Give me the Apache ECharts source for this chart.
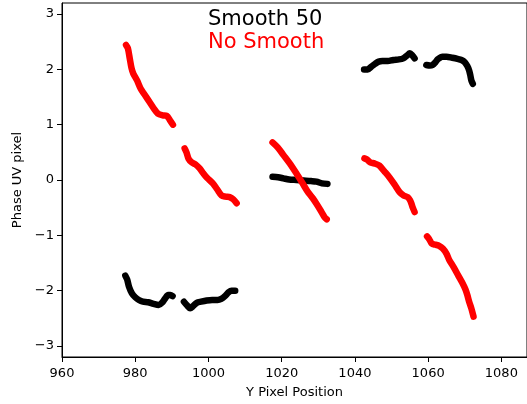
<!DOCTYPE html>
<html><head><meta charset="utf-8">
<script src="https://cdn.jsdelivr.net/npm/echarts@6/dist/echarts.min.js"></script>
<style>html,body{margin:0;padding:0;background:#fff}#c{width:527px;height:404px}</style>
</head><body><div id="c"></div>
<script>
const xTicks = [960, 980, 1000, 1020, 1040, 1060, 1080];
const yTicks = [-3, -2, -1, 0, 1, 2, 3];
const xLabel = 'Y Pixel Position';
const yLabel = 'Phase UV pixel';
const smoothName = 'Smooth 50';
const rawName = 'No Smooth';

// "No Smooth" (red) segments
const raw1 = [[977.5,2.44],[978,2.38],[978.5,2.2],[979,2.02],[979.5,1.92],[980.5,1.8],[981.5,1.65],[982.5,1.55],[984,1.4],[985,1.3],[986.2,1.2],[987.5,1.17],[988.6,1.16],[989.5,1.08],[990.3,1.0]];
const raw2 = [[993.5,0.57],[994,0.5],[994.6,0.38],[995.4,0.32],[996.5,0.28],[997.6,0.21],[998.6,0.12],[999.6,0.04],[1001.2,-0.06],[1002.4,-0.17],[1003.6,-0.28],[1004.7,-0.3],[1005.8,-0.31],[1006.8,-0.35],[1007.7,-0.42]];
const raw3 = [[1017.5,0.68],[1018.9,0.59],[1020.5,0.45],[1022.2,0.3],[1024,0.12],[1025.7,-0.06],[1027,-0.2],[1028.5,-0.33],[1029.8,-0.46],[1030.9,-0.58],[1031.7,-0.67],[1032.3,-0.71]];
const raw4 = [[1042.6,0.39],[1043.3,0.37],[1044.2,0.32],[1045.3,0.3],[1046.7,0.26],[1048,0.16],[1049.4,0.05],[1050.8,-0.08],[1052.2,-0.22],[1053.3,-0.28],[1054.4,-0.31],[1055,-0.36],[1055.4,-0.42],[1055.8,-0.5],[1056.3,-0.58]];
const raw5 = [[1059.7,-1.02],[1060.3,-1.07],[1061,-1.15],[1062,-1.17],[1063,-1.19],[1064,-1.24],[1065,-1.33],[1065.8,-1.45],[1067,-1.58],[1068.5,-1.76],[1069.5,-1.88],[1070.2,-1.98],[1070.7,-2.08],[1071.2,-2.2],[1071.8,-2.32],[1072.4,-2.47]];

// "Smooth 50" (black) segments
const sm1 = [[977.3,-1.73],[977.8,-1.8],[978.3,-1.93],[979.1,-2.05],[980,-2.12],[981,-2.17],[982.1,-2.2],[983.5,-2.21],[985,-2.24],[986.4,-2.26],[987.3,-2.22],[988.2,-2.14],[989,-2.08],[989.6,-2.08],[990.2,-2.1]];
const sm2 = [[993.3,-2.2],[994.2,-2.27],[995,-2.32],[995.8,-2.28],[996.8,-2.22],[998,-2.2],[999.5,-2.18],[1001,-2.17],[1002.5,-2.17],[1003.5,-2.15],[1004.5,-2.1],[1005.5,-2.03],[1006.3,-2.0],[1007.3,-2.0]];
const sm3 = [[1017.5,0.06],[1019,0.05],[1020.5,0.03],[1022,0.01],[1024,0.0],[1026,-0.01],[1028,-0.02],[1029.5,-0.03],[1031,-0.06],[1032.5,-0.07]];
const sm4 = [[1042.5,2.0],[1043.5,2.0],[1044.5,2.05],[1045.5,2.1],[1046.5,2.14],[1047.5,2.15],[1049,2.15],[1050.5,2.17],[1052,2.18],[1053.2,2.2],[1054.2,2.25],[1055,2.29],[1055.7,2.25],[1056.3,2.2]];
const sm5 = [[1059.5,2.08],[1060.5,2.07],[1061.2,2.08],[1062,2.13],[1062.6,2.18],[1063.9,2.23],[1065,2.23],[1066.6,2.21],[1068,2.19],[1069.1,2.17],[1070,2.13],[1070.7,2.06],[1071.2,1.98],[1071.5,1.9],[1071.8,1.8],[1072.2,1.74]];

const FONT = '"DejaVu Sans", sans-serif';
const fmt = v => String(v).replace('-', '\u2212');
function seg(data, color) {
  return { type: 'line', data: data, showSymbol: false, smooth: 0.3, silent: true,
    lineStyle: { color: color, width: 6.5, cap: 'round', join: 'round' }, animation: false };
}
const series = [];
[sm1, sm2, sm3, sm4, sm5].forEach(d => series.push(seg(d, '#000000')));
[raw1, raw2, raw3, raw4, raw5].forEach(d => series.push(seg(d, '#ff0000')));

const chart = echarts.init(document.getElementById('c'), null, { renderer: 'canvas' });
chart.setOption({
  animation: false,
  grid: { left: 62, top: 3, right: 0, bottom: 46, show: true, borderColor: '#000', borderWidth: 1, containLabel: false },
  xAxis: {
    type: 'value', min: 960, max: 1087,
    name: xLabel, nameLocation: 'middle', nameGap: 29,
    nameTextStyle: { fontFamily: FONT, fontSize: 13, color: '#000' },
    axisLine: { show: true, onZero: false, lineStyle: { color: '#000', width: 1 } },
    axisTick: { show: true, inside: false, length: 5, customValues: xTicks, lineStyle: { color: '#000' } },
    axisLabel: { customValues: xTicks, formatter: fmt, fontFamily: FONT, fontSize: 13, color: '#000', margin: 10 },
    splitLine: { show: false }
  },
  yAxis: {
    type: 'value', min: -3.2, max: 3.2,
    name: yLabel, nameLocation: 'middle', nameGap: 36, nameRotate: 90,
    nameTextStyle: { fontFamily: FONT, fontSize: 13, color: '#000' },
    axisLine: { show: true, onZero: false, lineStyle: { color: '#000', width: 1 } },
    axisTick: { show: true, inside: false, length: 5, customValues: yTicks, lineStyle: { color: '#000' } },
    axisLabel: { customValues: yTicks, formatter: fmt, fontFamily: FONT, fontSize: 13, color: '#000', margin: 8 },
    splitLine: { show: false }
  },
  graphic: [
    { type: 'text', left: 208, top: 9, style: { text: smoothName, font: '21px ' + FONT, fill: '#000' } },
    { type: 'text', left: 208, top: 32, style: { text: rawName, font: '21px ' + FONT, fill: '#ff0000' } }
  ],
  series: series
});
</script></body></html>
